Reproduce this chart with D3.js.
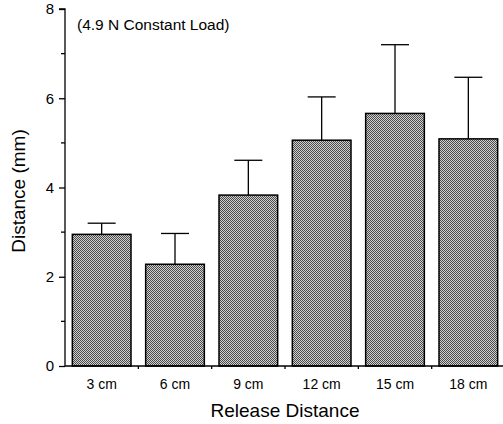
<!DOCTYPE html>
<html lang="en">
<head>
<meta charset="UTF-8">
<title>Release distance bar chart</title>
<script src="https://cdn.jsdelivr.net/npm/d3@7"></script>
<style type="text/css">
	body { margin: 0; background: #fff; font-family: "Liberation Sans", Arial, sans-serif; }
	.axis text { font-size: 14px; fill: #000; font-family: "Liberation Sans", Arial, sans-serif; }
	.y.axis text { font-size: 15px; }
	.axis path, .axis line { fill: none; stroke: #000; stroke-width: 1.3px; }
	.label { font-size: 19px; fill: #000; }
	.bar { stroke: #000; stroke-width: 1.5px; }
	.err { stroke: #000; stroke-width: 1.3px; fill: none; }
</style>
</head>
<body>
<script type="text/javascript">

var categories = ['3 cm', '6 cm', '9 cm', '12 cm', '15 cm', '18 cm'];
var means = [2.95, 2.28, 3.83, 5.06, 5.66, 5.09];
var errTops = [3.2, 2.97, 4.61, 6.03, 7.2, 6.47];
var yTicks = [0, 2, 4, 6, 8];
var yMinor = [1, 3, 5, 7];

var width = 503, height = 424;
var margin = {top: 9, right: -2, bottom: 58, left: 65};
var w = width - margin.left - margin.right;
var h = height - margin.top - margin.bottom;

var svg = d3.select('body').append('svg')
	.attr('width', width)
	.attr('height', height);

// dithered grey fill like the printed figure
var pat = svg.append('defs').append('pattern')
	.attr('id', 'dither')
	.attr('width', 2).attr('height', 2)
	.attr('patternUnits', 'userSpaceOnUse');
pat.append('rect').attr('width', 2).attr('height', 2).attr('fill', '#d0d0d0');
pat.append('rect').attr('width', 1).attr('height', 1).attr('fill', '#4a4a4a');
pat.append('rect').attr('x', 1).attr('y', 1).attr('width', 1).attr('height', 1).attr('fill', '#4a4a4a');

var g = svg.append('g')
	.attr('transform', 'translate(' + margin.left + ',' + margin.top + ')');

var x = d3.scaleBand().domain(categories).range([0, w]).paddingInner(0.2).paddingOuter(0.1);
var y = d3.scaleLinear().domain([0, 8]).range([h, 0]);

// bars
g.selectAll('.bar')
	.data(categories)
	.enter().append('rect')
	.attr('class', 'bar')
	.attr('x', d => x(d))
	.attr('y', (d, i) => y(means[i]))
	.attr('width', x.bandwidth())
	.attr('height', (d, i) => h - y(means[i]))
	.attr('fill', 'url(#dither)');

// error bars (upper only)
var cap = 14;
categories.forEach(function(c, i) {
	var cx = x(c) + x.bandwidth() / 2;
	g.append('line').attr('class', 'err')
		.attr('x1', cx).attr('x2', cx)
		.attr('y1', y(means[i])).attr('y2', y(errTops[i]));
	g.append('line').attr('class', 'err')
		.attr('x1', cx - cap).attr('x2', cx + cap)
		.attr('y1', y(errTops[i])).attr('y2', y(errTops[i]));
});

// y axis with minor ticks
var yAxis = g.append('g').attr('class', 'y axis')
	.call(d3.axisLeft(y).tickValues(yTicks).tickSize(6).tickPadding(5).tickFormat(d3.format('d')));
yAxis.selectAll('.minor')
	.data(yMinor)
	.enter().append('line')
	.attr('class', 'minor')
	.attr('x1', -4).attr('x2', 0)
	.attr('y1', d => y(d)).attr('y2', d => y(d));
yAxis.select('.domain').attr('d', 'M-6,' + y(8) + 'H0V' + h);

// x axis: ticks sit between the bars
var xAxis = g.append('g').attr('class', 'x axis')
	.attr('transform', 'translate(0,' + h + ')')
	.call(d3.axisBottom(x).tickSize(0).tickPadding(13));
xAxis.select('.domain').attr('d', 'M0,0H' + w);
xAxis.selectAll('.sep')
	.data(categories.slice(1))
	.enter().append('line')
	.attr('class', 'sep')
	.attr('x1', d => x(d) - x.step() * 0.1).attr('x2', d => x(d) - x.step() * 0.1)
	.attr('y1', 0).attr('y2', 3);

// labels
g.append('text').attr('class', 'label')
	.attr('x', 12).attr('y', 21)
	.style('font-size', '15.5px')
	.text('(4.9 N Constant Load)');

g.append('text').attr('class', 'label')
	.attr('x', w / 2).attr('y', h + 51)
	.attr('text-anchor', 'middle')
	.text('Release Distance');

svg.append('text').attr('class', 'label')
	.attr('transform', 'translate(25,' + 191 + ') rotate(-90)')
	.attr('text-anchor', 'middle')
	.text('Distance (mm)');

</script>
</body>
</html>
